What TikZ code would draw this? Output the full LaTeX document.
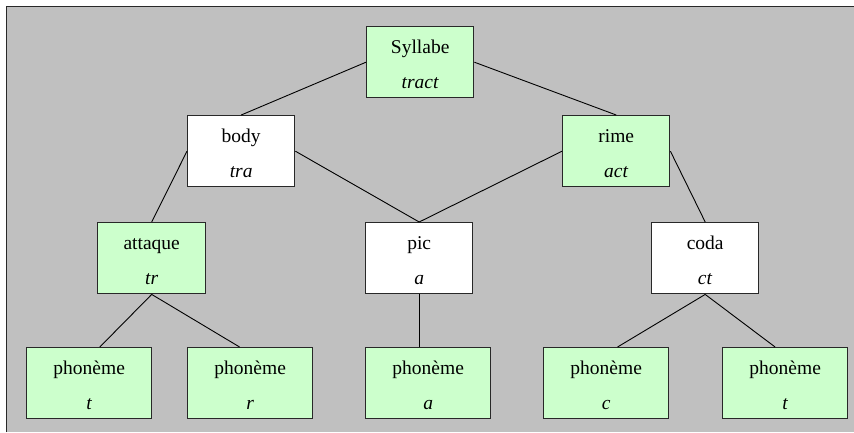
\documentclass[tikz,border=0pt]{standalone}
\usepackage{fontspec}
\setmainfont{Liberation Serif}
\usetikzlibrary{calc}
\definecolor{bggray}{RGB}{192,192,192}
\definecolor{palegreen}{RGB}{204,255,204}
\definecolor{frame}{RGB}{40,40,40}
\tikzset{
  box/.style={draw=frame, line width=1.4pt, anchor=north west, inner sep=0pt,
    align=center, font=\fontsize{19.5}{23}\selectfont},
  greenbox/.style={box, fill=palegreen},
  whitebox/.style={box, fill=white},
  small/.style={minimum width=107pt, minimum height=71pt},
  wide/.style={minimum width=125pt, minimum height=71pt},
  link/.style={draw=black, line width=0.9pt}
}
\newcommand{\twolines}[2]{\rule{0pt}{18.5pt}#1\\[12pt]\textit{#2}\rule[-1.2pt]{0pt}{1.2pt}}
\begin{document}
\begin{tikzpicture}[x=1pt,y=-1pt]
\useasboundingbox (0,0) rectangle (854,432);
\fill[white] (0,0) rectangle (854,432);
\fill[bggray] (6,6) rectangle (854,432);
\draw[frame, line width=1.6pt] (6.5,432) -- (6.5,6.5) -- (854,6.5);

\node[greenbox, small] (syl)  at (366,26)  {\twolines{Syllabe}{tract}};
\node[whitebox, small] (body) at (187,115) {\twolines{body}{tra}};
\node[greenbox, small] (rime) at (562,115) {\twolines{rime}{act}};
\node[greenbox, small, minimum width=108pt] (att) at (97,222) {\twolines{attaque}{tr}};
\node[whitebox, small] (pic)  at (365,222) {\twolines{pic}{a}};
\node[whitebox, small] (coda) at (651,222) {\twolines{coda}{ct}};
\node[greenbox, wide] (pt)  at (26,347)  {\twolines{phonème}{t}};
\node[greenbox, wide] (pr)  at (187,347) {\twolines{phonème}{r}};
\node[greenbox, wide] (pa)  at (365,347) {\twolines{phonème}{a}};
\node[greenbox, wide] (pc)  at (543,347) {\twolines{phonème}{c}};
\node[greenbox, wide] (pt2) at (722,347) {\twolines{phonème}{t}};

\draw[link] (syl.west) -- (body.north);
\draw[link] (syl.east) -- (rime.north);
\draw[link] (body.west) -- (att.north);
\draw[link] (body.east) -- (pic.north);
\draw[link] (rime.west) -- (pic.north);
\draw[link] (rime.east) -- (coda.north);
\draw[link] (att.south) -- ($(pt.north west)!0.584!(pt.north east)$);
\draw[link] (att.south) -- ($(pr.north west)!0.416!(pr.north east)$);
\draw[link] (pic.south) -- (pic.south |- pa.north);
\draw[link] (coda.south) -- ($(pc.north west)!0.59!(pc.north east)$);
\draw[link] (coda.south) -- ($(pt2.north west)!0.42!(pt2.north east)$);
\end{tikzpicture}
\end{document}
